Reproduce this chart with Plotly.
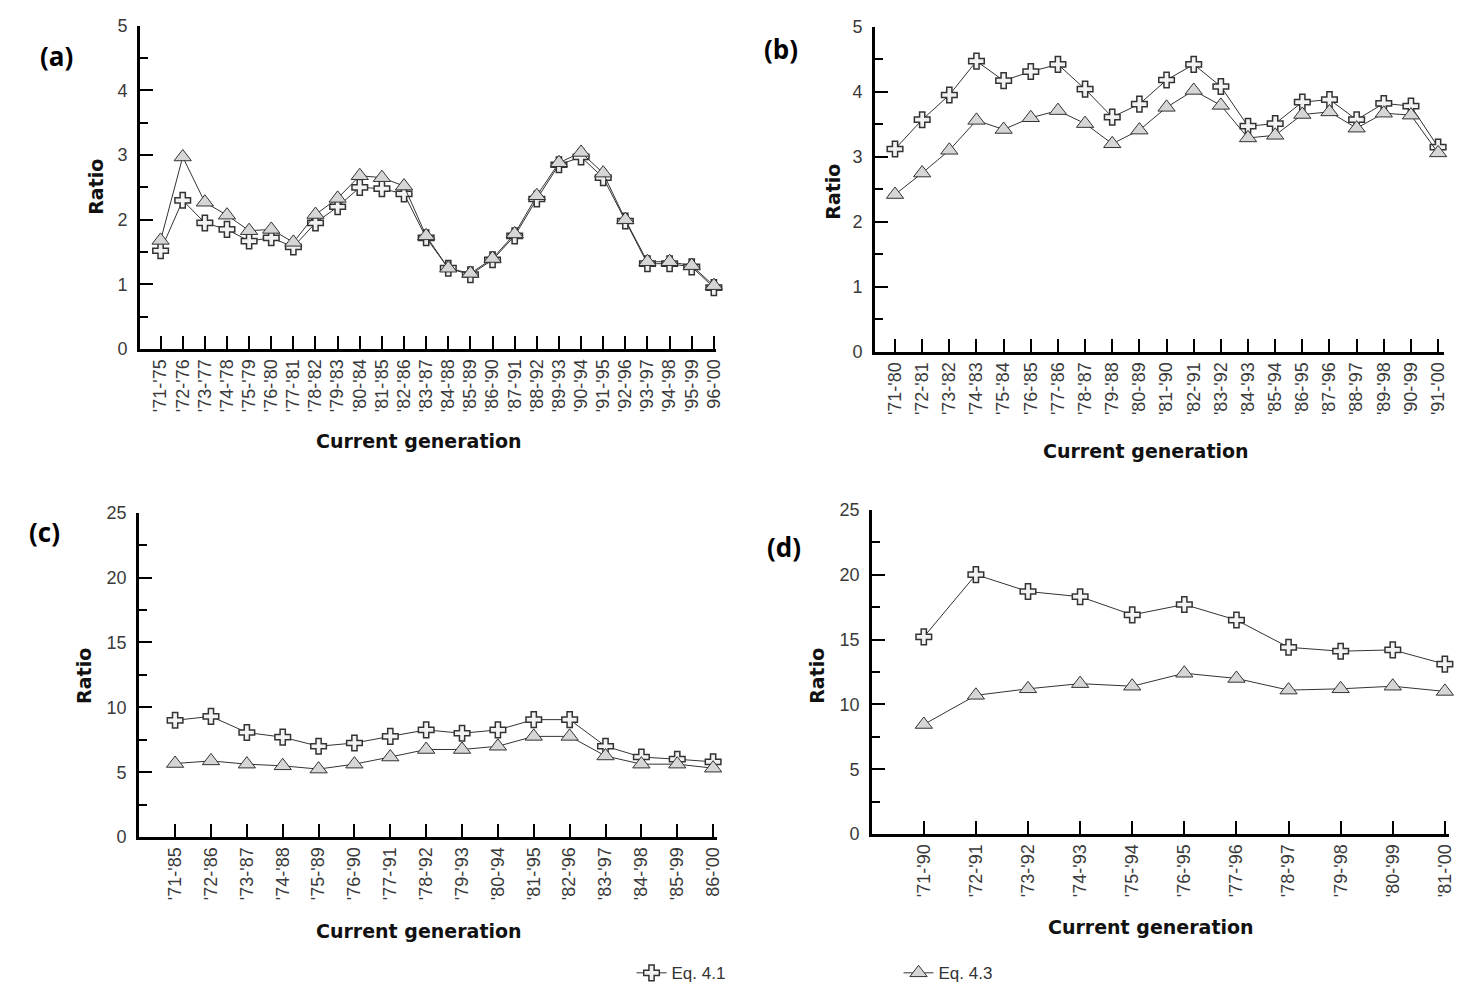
import plotly.graph_objects as go

# ---------------- data ----------------
cats_a = ["'71-'75", "'72-'76", "'73-'77", "'74-'78", "'75-'79", "'76-'80", "'77-'81",
          "'78-'82", "'79-'83", "'80-'84", "'81-'85", "'82-'86", "'83-'87", "'84-'88",
          "'85-'89", "'86-'90", "'87-'91", "'88-'92", "'89-'93", "'90-'94", "'91-'95",
          "'92-'96", "'93-'97", "'94-'98", "'95-'99", "96-'00"]
a_eq41 = [1.52, 2.30, 1.95, 1.85, 1.67, 1.72, 1.58, 1.95, 2.20, 2.50, 2.48, 2.40, 1.72,
          1.25, 1.15, 1.38, 1.75, 2.32, 2.85, 2.97, 2.65, 1.98, 1.32, 1.32, 1.27, 0.95]
a_eq43 = [1.68, 2.97, 2.27, 2.07, 1.83, 1.85, 1.65, 2.08, 2.33, 2.68, 2.65, 2.52, 1.75,
          1.25, 1.17, 1.40, 1.78, 2.37, 2.88, 3.04, 2.72, 2.00, 1.35, 1.35, 1.29, 0.98]

cats_b = ["'71-'80", "'72-'81", "'73-'82", "'74-'83", "'75-'84", "'76-'85", "'77-'86",
          "'78-'87", "'79-'88", "'80-'89", "'81-'90", "'82-'91", "'83-'92", "'84-'93",
          "'85-'94", "'86-'95", "'87-'96", "'88-'97", "'89-'98", "'90-'99", "'91-'00"]
b_eq41 = [3.12, 3.57, 3.95, 4.47, 4.17, 4.31, 4.42, 4.04, 3.61, 3.81, 4.18, 4.42, 4.08,
          3.47, 3.51, 3.84, 3.88, 3.57, 3.82, 3.78, 3.15]
b_eq43 = [2.42, 2.75, 3.10, 3.56, 3.42, 3.60, 3.71, 3.51, 3.20, 3.41, 3.76, 4.02, 3.79,
          3.29, 3.33, 3.65, 3.69, 3.44, 3.67, 3.64, 3.06]

cats_c = ["'71-'85", "'72-'86", "'73-'87", "'74-'88", "'75-'89", "'76-'90", "'77-'91",
          "'78-'92", "'79-'93", "'80-'94", "'81-'95", "'82-'96", "'83-'97", "'84-'98",
          "'85-'99", "86-'00"]
c_eq41 = [9.0, 9.3, 8.06, 7.7, 7.0, 7.25, 7.76, 8.26, 8.0, 8.26, 9.05, 9.05, 7.0, 6.17,
          6.0, 5.8]
c_eq43 = [5.67, 5.87, 5.62, 5.49, 5.24, 5.62, 6.17, 6.75, 6.75, 7.0, 7.76, 7.76, 6.25,
          5.62, 5.62, 5.31]

cats_d = ["'71-'90", "'72-'91", "'73-'92", "'74-'93", "'75-'94", "'76-'95", "'77-'96",
          "'78-'97", "'79-'98", "'80-'99", "'81-'00"]
d_eq41 = [15.2, 20.0, 18.7, 18.3, 16.9, 17.7, 16.5, 14.4, 14.1, 14.2, 13.1]
d_eq43 = [8.45, 10.7, 11.2, 11.6, 11.4, 12.4, 12.0, 11.1, 11.2, 11.4, 11.0]

series_names = ["Eq. 4.1", "Eq. 4.3"]
panel_labels = ["(a)", "(b)", "(c)", "(d)"]

# ---------------- styling ----------------
W, H = 1464, 997
LINE = "#333333"
TICKFONT = dict(family="Liberation Sans, Arial, sans-serif", size=18, color="#3a3a3a")
TITLEFONT = dict(family="DejaVu Sans, Verdana, sans-serif", size=19, color="#111111")

cross_marker = dict(symbol="cross", size=13, color="#f2f2f2", line=dict(color=LINE, width=1.5))
tri_marker = dict(symbol="triangle-up", size=15, color="#d6d6d6", line=dict(color=LINE, width=1))

def px_x(p):
    return p / W

def px_y(p):
    return 1 - p / H

panels = [
    dict(cats=cats_a, s1=a_eq41, s2=a_eq43, xd=(141, 720), yd=(346, 16), xr=(-0.92, 25.1),
         yr=(0, 5), dt=1),
    dict(cats=cats_b, s1=b_eq41, s2=b_eq43, xd=(880, 1452), yd=(349, 17), xr=(-0.73, 20.22),
         yr=(0, 5), dt=1),
    dict(cats=cats_c, s1=c_eq41, s2=c_eq43, xd=(140, 721), yd=(844, 513), xr=(-1.0, 15.11),
         yr=(0, 25), dt=5),
    dict(cats=cats_d, s1=d_eq41, s2=d_eq43, xd=(877, 1457), yd=(841, 510), xr=(-0.99, 10.08),
         yr=(0, 25), dt=5),
]

fig = go.Figure()
layout = dict(width=W, height=H, margin=dict(l=0, r=0, t=0, b=0),
              paper_bgcolor="white", plot_bgcolor="white", annotations=[])

for i, p in enumerate(panels):
    n = "" if i == 0 else str(i + 1)
    xa, ya = "x" + n, "y" + n
    fig.add_trace(go.Scatter(x=p["cats"], y=p["s1"], mode="lines+markers", name=series_names[0],
                             line=dict(color=LINE, width=1), marker=cross_marker,
                             xaxis=xa, yaxis=ya, showlegend=(i == 0), cliponaxis=False))
    fig.add_trace(go.Scatter(x=p["cats"], y=p["s2"], mode="lines+markers", name=series_names[1],
                             line=dict(color=LINE, width=1), marker=tri_marker,
                             xaxis=xa, yaxis=ya, showlegend=(i == 0), cliponaxis=False))
    layout["xaxis" + n] = dict(
        domain=[px_x(p["xd"][0]), px_x(p["xd"][1])], anchor=ya, type="category",
        range=list(p["xr"]), showgrid=False, zeroline=False, showline=True,
        linecolor="black", linewidth=3, ticks="inside", ticklen=13, tickwidth=2,
        tickcolor="black", tickangle=-90, tickfont=TICKFONT, fixedrange=True)
    layout["yaxis" + n] = dict(
        domain=[px_y(p["yd"][0]), px_y(p["yd"][1])], anchor=xa, range=list(p["yr"]),
        dtick=p["dt"], tick0=0, showgrid=False, zeroline=False, showline=True,
        linecolor="black", linewidth=3, ticks="inside", ticklen=13, tickwidth=2,
        tickcolor="black", tickfont=TICKFONT, ticklabelstandoff=6,
        minor=dict(ticks="inside", ticklen=8, tickwidth=2, tickcolor="black",
                   dtick=p["dt"] / 2, tick0=0),
        fixedrange=True)

# panel labels, axis titles
label_pos = [(57, 47), (785, 40), (45, 533), (788, 548)]
ratio_pos = [(97, 180), (838, 185), (85, 680), (822, 680)]
xtitle_pos = [(421, 440), (1152, 450), (421, 940), (1157, 936)]
for i in range(4):
    layout["annotations"].append(dict(
        text="<b>%s</b>" % panel_labels[i], x=px_x(label_pos[i][0]), y=px_y(label_pos[i][1]),
        xref="paper", yref="paper", showarrow=False, xanchor="center", yanchor="middle",
        font=dict(family="Open Sans, Lato, sans-serif", size=26, color="black")))
    layout["annotations"].append(dict(
        text="<b>Ratio</b>", x=px_x(ratio_pos[i][0]), y=px_y(ratio_pos[i][1]),
        xref="paper", yref="paper", showarrow=False, textangle=-90,
        xanchor="center", yanchor="middle", font=TITLEFONT))
    layout["annotations"].append(dict(
        text="<b>Current generation</b>", x=px_x(xtitle_pos[i][0]), y=px_y(xtitle_pos[i][1]),
        xref="paper", yref="paper", showarrow=False, xanchor="center", yanchor="middle",
        font=TITLEFONT))

layout["legend"] = dict(orientation="h", x=px_x(635), y=px_y(983), xanchor="left",
                        yanchor="middle", entrywidth=222, entrywidthmode="pixels",
                        font=dict(family="Liberation Sans, Arial, sans-serif", size=17,
                                  color="#333333"),
                        bgcolor="rgba(0,0,0,0)")

fig.update_layout(**layout)
fig.write_html("out.html")
